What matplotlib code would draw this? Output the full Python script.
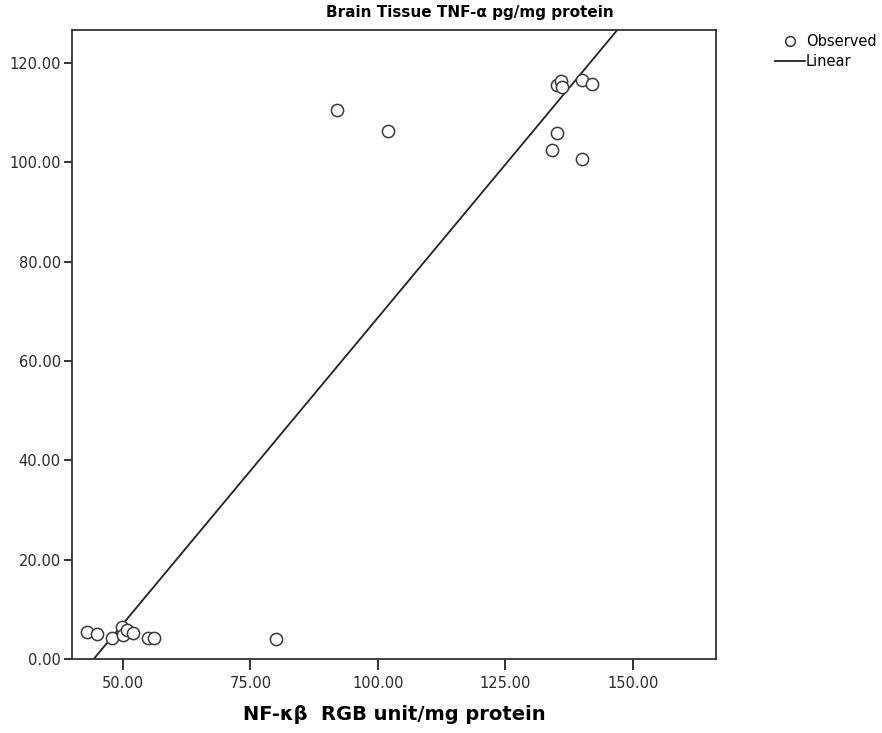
import numpy as np
import matplotlib
matplotlib.use("Agg")
import matplotlib.pyplot as plt
from matplotlib.lines import Line2D

plt.rcParams['font.family'] = ['DejaVu Sans']

nfkb = [42.9, 44.9, 47.9, 49.9, 50.1, 50.8, 51.9, 54.9, 56.1, 80.0,
        92.0, 102.0, 134.1, 135.1, 135.1, 135.9, 136.1, 140.0, 140.0, 142.0]
tnf = [5.5, 5.0, 4.2, 6.5, 4.8, 5.8, 5.3, 4.2, 4.2, 4.0,
       110.5, 106.2, 102.5, 105.9, 115.5, 116.4, 115.2, 116.5, 100.6, 115.7]
xticks = [50, 75, 100, 125, 150]
yticks = [0, 20, 40, 60, 80, 100, 120]

fig = plt.figure(figsize=(8.82, 7.33), dpi=100)
ax = fig.add_axes([0.0816, 0.1010, 0.7302, 0.8581])

x = np.array(nfkb)
y = np.array(tnf)
slope, intercept = np.polyfit(x, y, 1)
xl = np.array([30, 180])
ax.plot(xl, slope * xl + intercept, color='#222222', lw=1.3)
ax.plot(x, y, 'o', mfc='white', mec='#3a3a3a', mew=1.1, ms=8.8, ls='none')

ax.set_xlim(40, 166.3)
ax.set_ylim(0, 126.6)
ax.set_xticks(xticks)
ax.set_yticks(yticks)
ax.set_xticklabels([f"{v:.2f}" for v in xticks])
ax.set_yticklabels([f"{v:.2f}" for v in yticks])
ax.tick_params(axis='x', length=8, width=1.3, color='#222222', labelcolor='#2a2a2a', labelsize=10.5, pad=4)
ax.tick_params(axis='y', length=6, width=1.3, color='#222222', labelcolor='#2a2a2a', labelsize=10.5, pad=2)
for s in ax.spines.values():
    s.set_linewidth(1.3)
    s.set_color('#333333')

ax.set_xlabel("NF-κβ  RGB unit/mg protein", fontsize=14, fontweight='bold', labelpad=10.5)
fig.text(470/882, 1 - 13/733, "Brain Tissue TNF-α pg/mg protein",
         ha='center', va='center', fontsize=11, fontweight='bold')

handles = [Line2D([], [], marker='o', mfc='white', mec='#333333', mew=1.1, ms=7, ls='none'),
           Line2D([], [], color='#222222', lw=1.3)]
fig.legend(handles, ['Observed', 'Linear'], loc='upper left', bbox_to_anchor=(0.8787, 0.953),
           frameon=False, fontsize=10.5, handlelength=2.05, handletextpad=0.08, labelspacing=0.3,
           borderpad=0, borderaxespad=0)

fig.savefig("out.png", dpi=100)
